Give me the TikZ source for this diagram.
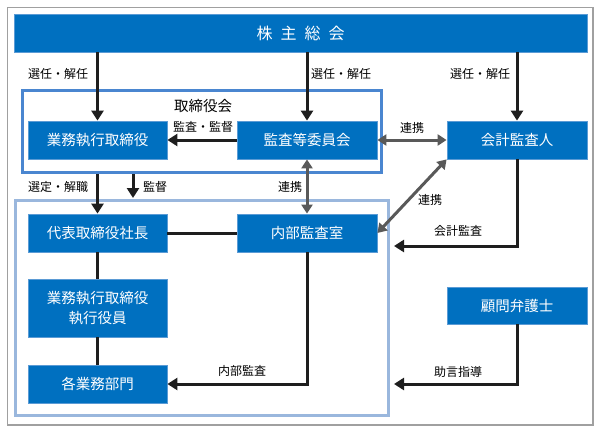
\documentclass[tikz,border=0pt]{standalone}
\usepackage{fontspec}
\setmainfont{Noto Sans CJK JP}
\usetikzlibrary{arrows.meta}
\definecolor{boxblue}{HTML}{0070C0}
\definecolor{boxedge}{HTML}{5B9BD5}
\definecolor{boardblue}{HTML}{4A86D0}
\definecolor{lowblue}{HTML}{9AB7DD}
\definecolor{framegray}{HTML}{A0A0A0}
\definecolor{darkline}{HTML}{1E1E1E}
\definecolor{grayline}{HTML}{595959}
\tikzset{
  bluebox/.style={draw=boxedge, line width=0.8pt, fill=boxblue, text=white, inner sep=0pt,
    minimum width=139pt, minimum height=38pt, font=\fontsize{14.5}{18}\selectfont, align=center},
  lbl/.style={font=\fontsize{12}{14}\selectfont, text=black, inner sep=0pt},
  arr/.style={draw=darkline, line width=3pt, -{Triangle[length=10pt,width=12pt]}},
  plainline/.style={draw=darkline, line width=3pt},
  garr/.style={draw=grayline, line width=3pt, {Triangle[length=9pt,width=11pt]}-{Triangle[length=9pt,width=11pt]}},
}
\begin{document}
\begin{tikzpicture}[x=1pt,y=-1pt]
\useasboundingbox (0,0) rectangle (600,431);
\fill[white] (0,0) rectangle (600,431);
\draw[framegray, line width=1.5pt] (7.5,7.5) rectangle (593,425);
% frames
\node[draw=boardblue, line width=3pt, minimum width=359pt, minimum height=82pt, inner sep=0pt] (board) at (202,131.5) {};
\node[draw=lowblue, line width=3pt, minimum width=373pt, minimum height=215pt, inner sep=0pt] (lower) at (202,308) {};
% boxes
\node[bluebox, minimum width=573pt, font=\fontsize{16}{18}\selectfont] (kabu) at (300.5,33) {株\hspace{0.5em}主\hspace{0.5em}総\hspace{0.5em}会};
\node[bluebox] (gyomu) at (97.5,140) {業務執行取締役};
\node[bluebox, minimum width=140pt] (kansa) at (307,140) {監査等委員会};
\node[bluebox, minimum width=140pt] (kaikei) at (517,140) {会計監査人};
\node[bluebox] (daihyo) at (97.5,233) {代表取締役社長};
\node[bluebox, minimum width=140pt] (naibu) at (307,233) {内部監査室};
\node[bluebox, minimum height=58pt] (shikkou) at (97.5,308) {業務執行取締役\\[2pt]執行役員};
\node[bluebox] (kakubu) at (97.5,384) {各業務部門};
\node[bluebox, minimum width=140pt, minimum height=37pt] (komon) at (517,305.5) {顧問弁護士};
% title
\node[font=\fontsize{14.5}{16}\selectfont, inner sep=0pt] (boardlbl) at (203,106) {取締役会};
% coordinates
\coordinate (kaend) at (394,246);
\coordinate (joend) at (394,384);
\coordinate (kantokuS) at (133,174);
\coordinate (kantokuE) at (133,198);
% connectors
\draw[arr] (kabu.south -| gyomu) -- (gyomu.north);
\draw[arr] (kabu.south -| kansa) -- (kansa.north);
\draw[arr] (kabu.south -| kaikei) -- (kaikei.north);
\draw[arr] (kansa.west) -- (gyomu.east);
\draw[garr] (kansa.east) -- (kaikei.west);
\draw[arr] (board.south -| gyomu) -- (daihyo.north);
\draw[arr] (kantokuS) -- (kantokuE);
\draw[garr] (kansa.south) -- (naibu.north);
\draw[garr] (naibu.east) -- (kaikei.south west);
\draw[plainline] (daihyo.east) -- (naibu.west);
\draw[plainline] (daihyo.south) -- (shikkou.north);
\draw[plainline] (shikkou.south) -- (kakubu.north);
\draw[arr] (naibu.south) |- (kakubu.east);
\draw[arr] (kaikei.south) |- (kaend);
\draw[arr] (komon.south) |- (joend);
% labels
\node[lbl] (l1) at (58,74) {選任・解任};
\node[lbl] (l2) at (341,74) {選任・解任};
\node[lbl] (l3) at (480,74) {選任・解任};
\node[lbl] (l4) at (203,127) {監査・監督};
\node[lbl] (l5) at (412,128) {連携};
\node[lbl] (l6) at (58,187) {選定・解職};
\node[lbl] (l7) at (155,187) {監督};
\node[lbl] (l8) at (290,187) {連携};
\node[lbl] (l9) at (430,200) {連携};
\node[lbl] (l10) at (458,231) {会計監査};
\node[lbl] (l11) at (242,371) {内部監査};
\node[lbl] (l12) at (458,372) {助言指導};
\end{tikzpicture}
\end{document}
